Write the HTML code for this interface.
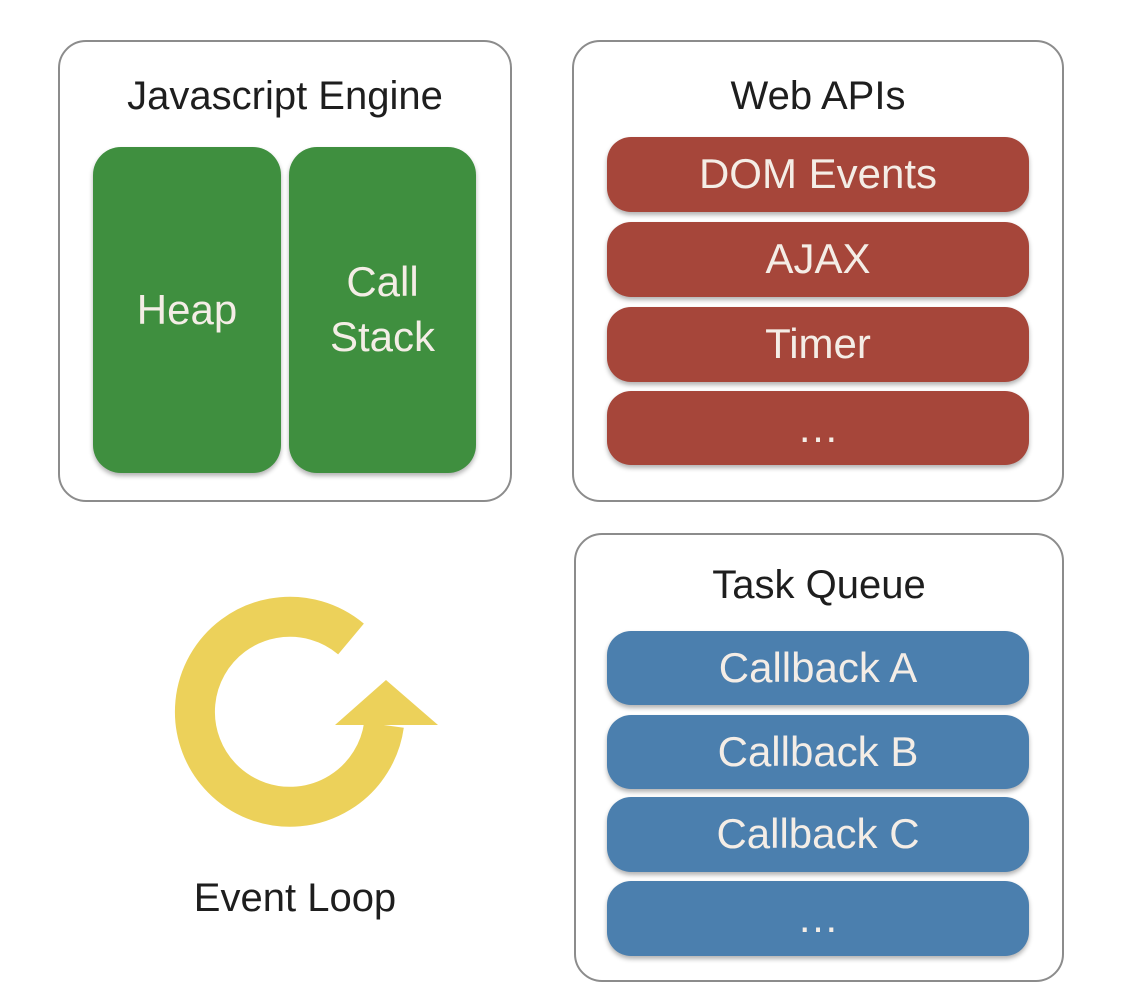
<!DOCTYPE html>
<html><head><style>
body{margin:0;width:1138px;height:1006px;background:#fff;position:relative;font-family:"Liberation Sans",sans-serif;overflow:hidden}
.box{position:absolute;border:2px solid #8c8c8c;border-radius:28px;box-sizing:border-box;background:#fff}
.t{position:absolute;left:0;right:0;text-align:center;font-size:40px;color:#1e1e1e}
.p{position:absolute;border-radius:28px;color:#f4ede6;font-size:42px;display:flex;align-items:center;justify-content:center;text-align:center;line-height:1.3;box-shadow:0 3px 5px rgba(0,0,0,.3)}
.g{background:#3f8f3f}.r{background:#a6463a;border-radius:24px}.b{background:#4b7fae;border-radius:24px}
</style></head><body>
<div class="box" style="left:58px;top:40px;width:454px;height:462px">
<div class="t" style="top:32px">Javascript Engine</div></div>
<div class="p g" style="left:93px;top:147px;width:188px;height:326px">Heap</div>
<div class="p g" style="left:289px;top:147px;width:187px;height:326px">Call<br>Stack</div>

<div class="box" style="left:572px;top:40px;width:492px;height:462px">
<div class="t" style="top:32px">Web APIs</div></div>
<div class="p r" style="left:607px;top:137px;width:422px;height:75px">DOM Events</div>
<div class="p r" style="left:607px;top:222px;width:422px;height:75px">AJAX</div>
<div class="p r" style="left:607px;top:307px;width:422px;height:75px">Timer</div>
<div class="p r" style="left:607px;top:391px;width:422px;height:74px">…</div>

<div class="box" style="left:574px;top:533px;width:490px;height:449px">
<div class="t" style="top:28px">Task Queue</div></div>
<div class="p b" style="left:607px;top:631px;width:422px;height:74px">Callback A</div>
<div class="p b" style="left:607px;top:715px;width:422px;height:74px">Callback B</div>
<div class="p b" style="left:607px;top:797px;width:422px;height:75px">Callback C</div>
<div class="p b" style="left:607px;top:881px;width:422px;height:75px">…</div>

<svg style="position:absolute;left:0;top:0" width="1138" height="1006">
<path d="M351 639 A95 95 0 1 0 384 725" fill="none" stroke="#ecd15a" stroke-width="40"/>
<polygon points="335,725 438,725 386,680" fill="#ecd15a"/>
</svg>
<div style="position:absolute;left:150px;width:290px;top:876px;text-align:center;font-size:40px;color:#1e1e1e">Event Loop</div>
</body></html>
